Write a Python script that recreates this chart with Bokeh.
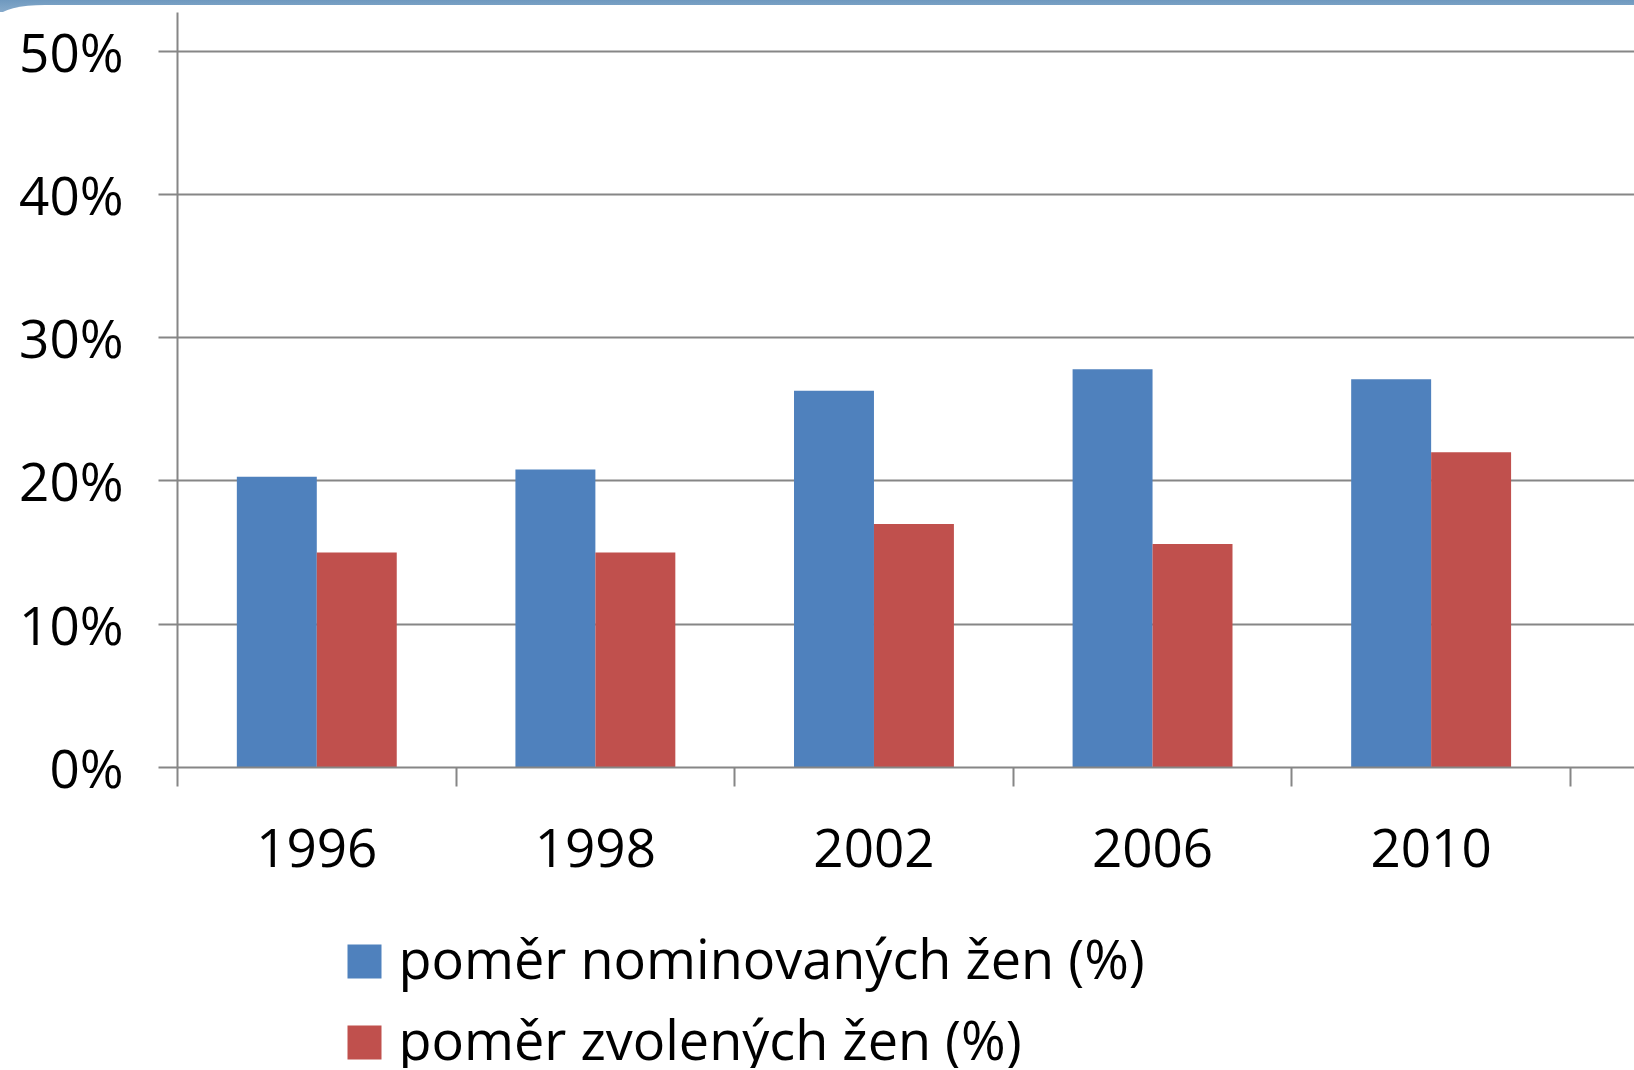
from bokeh.plotting import figure
from bokeh.models import FixedTicker, PrintfTickFormatter, Range1d, ColumnDataSource, Div
from bokeh.layouts import column
from bokeh.core.properties import value
from bokeh.embed import file_html
from bokeh.resources import INLINE

years = ["1996", "1998", "2002", "2006", "2010"]
nominated = [20.3, 20.8, 26.3, 27.8, 27.1]
elected = [15.0, 15.0, 17.0, 15.6, 22.0]
series_names = ["poměr nominovaných žen (%)", "poměr zvolených žen (%)"]
series_colors = ["#4F81BD", "#C0504D"]
y_ticks = [0, 10, 20, 30, 40, 50]

FONT = "Open Sans"
GRAY = "#868686"
W = 1634
LEFT = 177

# decorative slide band at the very top
band = Div(
    text=(
        '<div style="width:1634px;height:12px;position:relative;overflow:hidden;'
        'background:linear-gradient(#6f99bf,#86aacb);">'
        '<div style="position:absolute;left:0;top:5px;width:1634px;height:30px;'
        'background:#ffffff;border-top-left-radius:45px 11px;"></div></div>'
    ),
    width=W, height=12, margin=0,
)

bw = 0.287
centers = [i + 0.5 for i in range(len(years))]
src = ColumnDataSource(dict(
    xb=[c - bw / 2 for c in centers],
    xr=[c + bw / 2 for c in centers],
    nom=nominated,
    ele=elected,
))

p = figure(
    frame_width=W - LEFT, frame_height=755,
    x_range=Range1d(0, 5.23), y_range=Range1d(0, 52.7),
    output_backend="svg", toolbar_location=None,
    min_border_left=LEFT, min_border_right=0, min_border_top=0, min_border_bottom=130,
    background_fill_color="white", border_fill_color="white",
    margin=0,
)
p.outline_line_color = None

p.vbar(x="xb", top="nom", width=bw, source=src, color=series_colors[0], line_color=None)
p.vbar(x="xr", top="ele", width=bw, source=src, color=series_colors[1], line_color=None)

p.xgrid.visible = False
p.ygrid.ticker = FixedTicker(ticks=y_ticks)
p.ygrid.grid_line_color = GRAY
p.ygrid.grid_line_width = 2
p.ygrid.level = "underlay"

ya = p.yaxis[0]
ya.ticker = FixedTicker(ticks=y_ticks)
ya.formatter = PrintfTickFormatter(format="%d%%")
ya.axis_line_color = GRAY
ya.axis_line_width = 2
ya.major_tick_line_color = GRAY
ya.major_tick_line_width = 2
ya.major_tick_out = 19
ya.major_tick_in = 0
ya.minor_tick_line_color = None
ya.major_label_text_font = FONT
ya.major_label_text_font_size = "53px"
ya.major_label_text_color = "#000000"
ya.major_label_standoff = 35

xa = p.xaxis[0]
xa.ticker = FixedTicker(ticks=centers, minor_ticks=list(range(len(years) + 1)))
xa.major_label_overrides = {c: y for c, y in zip(centers, years)}
xa.axis_line_color = GRAY
xa.axis_line_width = 2
xa.major_tick_line_color = None
xa.major_tick_out = 0
xa.major_tick_in = 0
xa.minor_tick_line_color = GRAY
xa.minor_tick_line_width = 2
xa.minor_tick_out = 19
xa.minor_tick_in = 0
xa.major_label_text_font = FONT
xa.major_label_text_font_size = "53px"
xa.major_label_text_color = "#000000"
xa.major_label_standoff = 42

# legend drawn in its own strip (page-pixel x coordinates, y downwards)
LH = 171
lg = figure(
    frame_width=W - LEFT, frame_height=LH,
    x_range=Range1d(LEFT, W), y_range=Range1d(LH, 0),
    output_backend="svg", toolbar_location=None,
    min_border=0, min_border_left=LEFT, margin=0,
    background_fill_color="white", border_fill_color="white",
)
lg.axis.visible = False
lg.grid.visible = False
lg.outline_line_color = None

row0, pitch = 64, 81
ys = [row0 + i * pitch for i in range(len(series_names))]
lsrc = ColumnDataSource(dict(
    x=[364] * len(series_names), y=ys,
    tx=[398] * len(series_names), ty=[yy - 4 for yy in ys],
    label=series_names, color=series_colors,
))
lg.rect(x="x", y="y", width=34, height=34, width_units="screen", height_units="screen",
        source=lsrc, fill_color="color", line_color=None)
lg.text(x="tx", y="ty", text="label", source=lsrc, text_font=value(FONT),
        text_font_size="54px", text_color="#000000", text_baseline="alphabetic",
        text_align="left")

layout = column(band, p, lg, spacing=0, margin=0)
open("out.html", "w").write(file_html(layout, INLINE))
